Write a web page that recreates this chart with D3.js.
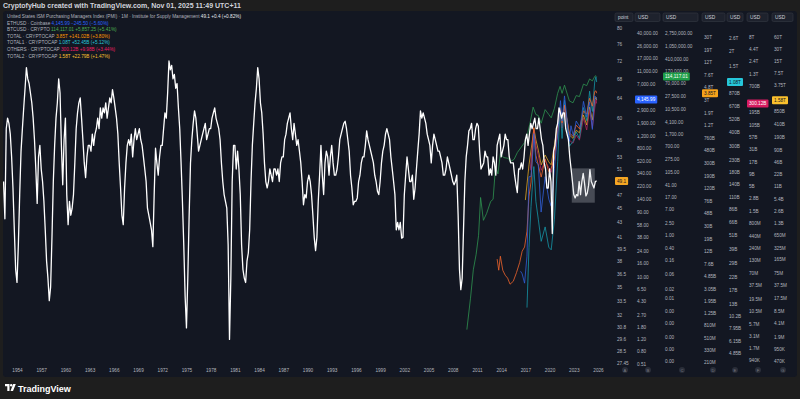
<!DOCTYPE html>
<html>
<head>
<meta charset="utf-8">
<script src="https://cdn.jsdelivr.net/npm/d3@7"></script>
<style>
body { margin: 0; background: #1e1e1e; }
svg { display: block; font-family: "Liberation Sans", Arial, sans-serif; }
</style>
</head>
<body>
<svg width="800" height="399"></svg>
<script>
// ISM PMI, one value every two months starting May 1952
var pmiStart = 1952 + 4 / 12;
var pmiValues = [
  49, 43.5, 58, 60,                      // 1952
  59, 57, 53, 48, 42, 37,                // 1953
  35.5, 40, 47, 54, 58, 62,
  66, 70.5, 68, 67, 65, 63,
  60, 56, 51, 45.7, 53, 55,
  51, 49, 46, 42, 38, 36,
  33.5, 35, 41, 49, 55, 60,
  63, 68, 65, 55, 48.5, 56,              // 1959
  60, 47, 42.7, 46, 44, 45,
  47, 52, 58, 61, 63, 64,
  60, 56, 52, 49.6, 53, 55,
  55, 54, 57, 55, 57, 58,
  60, 58, 62, 60, 62, 61,
  63, 60, 62, 64, 63, 65.7,
  64, 62, 60, 57, 52, 48,
  44, 42.7, 48, 52, 55, 56,
  55, 57, 53, 56, 58, 56,
  57, 58, 56, 55, 53, 51,                // 1969
  49, 45, 44, 43, 42, 39.8,
  47, 54.5, 52, 50, 53, 55,
  55, 58, 61, 60, 65, 72,
  70, 71, 68, 69, 66, 67,
  62, 58, 52, 46, 40, 34,
  30.7, 36, 44, 52, 56, 59,
  61.4, 60, 57, 54, 55, 56,
  57, 58, 59, 56, 57, 58,
  58, 60, 61, 62, 60, 59,
  58, 56, 52, 49, 47, 46,                // 1979
  45, 40, 29.6, 36, 49, 55,
  55, 51, 54, 51, 47, 40,
  37, 36, 35.5, 38, 39, 42,
  49, 55, 59, 63, 66, 70.5,
  68, 63, 61, 57, 52, 49,
  48, 49, 51, 50, 49, 51,
  51, 50, 51, 49, 52, 53,
  53, 56, 57, 59, 60, 61,
  58, 56, 59, 57, 55, 56,
  54, 52, 49, 45.5, 47, 46.5,            // 1989
  49, 50, 49, 47, 44, 41,
  39.3, 41, 46, 50, 55, 50,
  47, 52, 54, 53, 50, 53,
  55, 52, 50, 50, 51, 53,
  56, 57, 58, 59, 59.4, 58,
  56, 54, 50, 48, 45.5, 46,
  46, 46.5, 49, 50, 52, 53,
  53, 55, 57.6, 56, 55, 54,
  53, 52, 50, 49, 47.5, 47,
  49, 52, 54, 55, 57, 58,                // 1999
  57, 56, 53, 51, 49, 47,
  42, 43, 42, 43, 40.9, 41,
  47, 50, 53, 51, 49, 49,
  50, 46.3, 48, 51, 54, 57,
  61.4, 60, 61, 60, 59, 57,
  56, 55, 52, 55, 57, 56,
  55, 54, 54, 53, 52, 50,
  50, 51, 53, 52, 51, 50,
  49, 48.5, 49, 50, 44, 37,
  34.7, 36, 42, 49, 53, 55,              // 2009
  57.6, 58, 59, 56, 56, 58,
  59, 58.5, 54, 51, 51.5, 52,
  54, 53, 53, 50, 51, 50,
  53, 52, 50, 55, 56, 57,
  53, 54, 55, 57, 56, 56,
  53, 52, 52, 52, 50, 48.5,
  47.3, 51, 51, 52, 51, 53,
  56, 57, 55, 57, 59, 58,
  59, 60, 58, 58, 60, 58,
  56, 55, 52, 51, 48, 48,                // 2019
  51, 49, 41.5, 54, 55, 58,
  59, 62, 61, 60, 61, 61,
  58, 57, 56, 53, 51, 49,
  47, 46.5, 47, 46.8, 49, 47,
  49, 50.3, 48.7, 46.8, 47.2, 48.4,
  50.9, 49, 48.5, 48, 49, 49.1           // 2025
];

var ethDates = [2016.4, 2016.6, 2016.9, 2017.2, 2017.45, 2017.7, 2017.95, 2018.05, 2018.3, 2018.6, 2018.95, 2019.45, 2019.9, 2020.2, 2020.6, 2021.0, 2021.35, 2021.55, 2021.85, 2022.45, 2022.65, 2022.95, 2023.3, 2023.8, 2024.2, 2024.6, 2024.95, 2025.3, 2025.6, 2025.75, 2025.83];
var ethValues = [12, 11, 8, 20, 300, 300, 750, 1300, 500, 450, 90, 300, 140, 110, 400, 1300, 4000, 2000, 4700, 1000, 1700, 1200, 2000, 1600, 3900, 2300, 3800, 1500, 4700, 4500, 4145.99];

var btcDates = [2009.75, 2010.2, 2010.55, 2010.9, 2011.2, 2011.45, 2011.8, 2012.2, 2012.7, 2013.0, 2013.3, 2013.6, 2013.9, 2014.3, 2014.9, 2015.1, 2015.6, 2016.0, 2016.5, 2016.9, 2017.3, 2017.6, 2017.96, 2018.3, 2018.6, 2018.96, 2019.45, 2019.9, 2020.2, 2020.6, 2021.0, 2021.3, 2021.55, 2021.85, 2022.45, 2022.9, 2023.3, 2023.7, 2024.2, 2024.6, 2024.96, 2025.3, 2025.6, 2025.75, 2025.83];
var btcValues = [0.001, 0.01, 0.08, 0.25, 1, 16, 3, 5, 12, 14, 150, 90, 400, 300, 280, 220, 260, 430, 650, 900, 1800, 4000, 12000, 7000, 6500, 3700, 10000, 7000, 5500, 11000, 33000, 55000, 33000, 60000, 19000, 16500, 28000, 26000, 65000, 58000, 95000, 82000, 115000, 120000, 114117.01];

var totalDates = [2013.5, 2013.7, 2013.9, 2014.2, 2014.5, 2014.8, 2015.1, 2015.5, 2015.9, 2016.3, 2016.6, 2016.9, 2017.2, 2017.45, 2017.7, 2017.96, 2018.05, 2018.3, 2018.6, 2018.96, 2019.45, 2019.9, 2020.2, 2020.6, 2021.0, 2021.3, 2021.55, 2021.85, 2022.45, 2022.9, 2023.3, 2023.7, 2024.2, 2024.6, 2024.96, 2025.3, 2025.6, 2025.75, 2025.83];
var totalValues = [9e9, 6e9, 10e9, 6e9, 5e9, 4.5e9, 3.6e9, 4e9, 5.5e9, 8e9, 12e9, 14e9, 25e9, 90e9, 150e9, 800e9, 1.1e12, 400e9, 280e9, 180e9, 350e9, 220e9, 250e9, 350e9, 1e12, 2.2e12, 1.3e12, 2.5e12, 900e9, 800e9, 1.2e12, 1.05e12, 2e12, 1.8e12, 3.2e12, 2.4e12, 4.1e12, 4.2e12, 3.85e12];

var total1Dates = [2017.2, 2017.45, 2017.7, 2017.96, 2018.05, 2018.3, 2018.6, 2018.96, 2019.45, 2019.9, 2020.2, 2020.6, 2021.0, 2021.3, 2021.55, 2021.85, 2022.45, 2022.9, 2023.3, 2023.7, 2024.2, 2024.6, 2024.96, 2025.3, 2025.6, 2025.75, 2025.83];
var total1Values = [12e9, 40e9, 90e9, 170e9, 200e9, 100e9, 70e9, 45e9, 60e9, 40e9, 38e9, 70e9, 220e9, 650e9, 350e9, 750e9, 300e9, 330e9, 400e9, 350e9, 650e9, 500e9, 900e9, 600e9, 1.1e12, 1.2e12, 1.08e12];

var othersDates = [2017.6, 2017.96, 2018.05, 2018.3, 2018.6, 2018.96, 2019.45, 2019.9, 2020.2, 2020.6, 2021.0, 2021.3, 2021.55, 2021.85, 2022.45, 2022.9, 2023.3, 2023.7, 2024.2, 2024.6, 2024.96, 2025.3, 2025.6, 2025.75, 2025.83];
var othersValues = [11e9, 57e9, 81e9, 38e9, 23.5e9, 11e9, 18e9, 12.5e9, 10e9, 30e9, 63e9, 197e9, 89e9, 240e9, 49e9, 42e9, 63e9, 49e9, 146e9, 81e9, 218e9, 89e9, 240e9, 360e9, 300.12e9];

var total2Dates = [2017.0, 2017.45, 2017.96, 2018.05, 2018.3, 2018.6, 2018.96, 2019.45, 2019.9, 2020.2, 2020.6, 2021.0, 2021.3, 2021.55, 2021.85, 2022.45, 2022.9, 2023.3, 2023.7, 2024.2, 2024.6, 2024.96, 2025.3, 2025.6, 2025.75, 2025.83];
var total2Values = [5e9, 38e9, 212e9, 317e9, 163e9, 89e9, 38e9, 67e9, 45e9, 38e9, 120e9, 377e9, 1e12, 500e9, 1.19e12, 212e9, 175e9, 280e9, 240e9, 670e9, 377e9, 1.06e12, 500e9, 1.59e12, 1.87e12, 1.58e12];

var yearTicks = d3.range(1954, 2027, 3);
var pmiTicks = [80, 76, 72, 68, 64, 60, 56, 53, 51, 47, 45, 43, 41, 39.5, 38, 36.5, 35, 33.5, 32, 30.8, 29.6, 28.5, 27.45];
var ethTicks = [40000, 26000, 17000, 11000, 7000, 2900, 1900, 1200, 800, 520, 340, 220, 140, 90, 58, 38, 24, 16, 10, 6.5, 4.3, 2.7, 1.8, 1.2, 0.8, 0.51];
var btcTicks = [2750000, 1050000, 410000, 170000, 70000, 27500, 10500, 4100, 1700, 700, 275, 105, 41, 17, 7, 2.5, 1, 0.4, 0.16, 0.06, 0.02, 0.01, 0.004, 0.0016, 0.0006, 0.00025, 0.0001];
var totalTicks = [30e12, 19e12, 12e12, 7.6e12, 4.8e12, 3e12, 1.9e12, 1.2e12, 760e9, 480e9, 300e9, 190e9, 120e9, 76e9, 48e9, 30e9, 19e9, 12e9, 7.6e9, 4.85e9, 3.05e9, 1.95e9, 1.25e9, 810e6, 510e6, 330e6, 210e6];
var total1Ticks = [2.6e12, 2e12, 1.5e12, 870e9, 670e9, 520e9, 400e9, 300e9, 230e9, 180e9, 140e9, 110e9, 86e9, 66e9, 51e9, 39e9, 29e9, 22e9, 17e9, 13e9, 10.2e9, 7.95e9, 6.15e9, 4.85e9];
var othersTicks = [8e12, 4.4e12, 2.4e12, 1.3e12, 700e9, 195e9, 105e9, 57e9, 31e9, 17e9, 9e9, 5e9, 2.8e9, 1.5e9, 800e6, 440e6, 240e6, 130e6, 70e6, 37.5e6, 19.5e6, 10.5e6, 5.7e6, 3.1e6, 1.7e6, 940e3];
var total2Ticks = [60e12, 30e12, 15e12, 7.5e12, 3.75e12, 850e9, 410e9, 190e9, 90e9, 46e9, 22e9, 11e9, 5.4e9, 2.6e9, 1.3e9, 650e6, 325e6, 165e6, 75e6, 37.5e6, 17.5e6, 8.5e6, 4.1e6, 1.9e6, 950e3, 470e3];

var legendRows = [
  ["United States ISM Purchasing Managers Index (PMI) · 1M · Institute for Supply Management", "49.1  +0.4 (+0.82%)", "#e8e9ed"],
  ["ETHUSD · Coinbase", "4,145.99  −245.50 (−5.60%)", "#2962ff"],
  ["BTCUSD · CRYPTO", "114,117.01  +5,857.25 (+5.41%)", "#4caf50"],
  ["TOTAL · CRYPTOCAP", "3.85T  +141.02B (+3.80%)", "#ff9800"],
  ["TOTAL1 · CRYPTOCAP", "1.08T  +52.45B (+5.12%)", "#26c6da"],
  ["OTHERS · CRYPTOCAP", "300.12B  +9.98B (+3.44%)", "#e91e63"],
  ["TOTAL2 · CRYPTOCAP", "1.58T  +22.79B (+1.47%)", "#fbc02d"]
];

var svg = d3.select("svg");
var plot = {left: 3, top: 11, right: 612, bottom: 366};

var x = d3.scaleLinear().domain([1954, 2026]).range([17, 598]);
var yPmi = d3.scaleLog().domain([27.45, 80]).range([363, 28]);
var yEth = d3.scaleLog().domain([0.51, 40000]).range([364, 33]);
var yBtc = d3.scaleLog().domain([1e-4, 2.75e6]).range([361, 33]);
var yTotal = d3.scaleLog().domain([210e6, 30e12]).range([362, 37]);
var yTotal1 = d3.scaleLog().domain([4.85e9, 2.6e12]).range([353, 38]);
var yOthers = d3.scaleLog().domain([940e3, 8e12]).range([360, 37]);
var yTotal2 = d3.scaleLog().domain([470e3, 60e12]).range([361, 37]);

function abbr(v) {
  var units = [[1e12, "T"], [1e9, "B"], [1e6, "M"], [1e3, "K"]];
  for (var i = 0; i < units.length; i++) {
    if (v >= units[i][0] * 0.999) return +(v / units[i][0]).toFixed(2) + units[i][1];
  }
  return String(v);
}
var money = d3.format(",.2f");
var tickFont = 4.7;

// panel
svg.append("rect").attr("x", 3).attr("y", 11).attr("width", 794).attr("height", 366)
  .attr("rx", 3).attr("fill", "#131722");

svg.append("defs").append("clipPath").attr("id", "plotclip")
  .append("rect").attr("x", plot.left).attr("y", plot.top)
  .attr("width", plot.right - plot.left).attr("height", plot.bottom - plot.top);

var g = svg.append("g").attr("clip-path", "url(#plotclip)");

var series = [
  {dates: total2Dates, values: total2Values, y: yTotal2, color: "#e0a526"},
  {dates: othersDates, values: othersValues, y: yOthers, color: "#b0245e"},
  {dates: total1Dates, values: total1Values, y: yTotal1, color: "#1596a8"},
  {dates: totalDates, values: totalValues, y: yTotal, color: "#f0642c"},
  {dates: ethDates, values: ethValues, y: yEth, color: "#2f5fd8"},
  {dates: btcDates, values: btcValues, y: yBtc, color: "#2e9450"}
];

series.forEach(function(s) {
  var line = d3.line()
    .x(function(d, i) { return x(s.dates[i]); })
    .y(function(d) { return s.y(d); });
  g.append("path")
    .datum(s.values)
    .attr("fill", "none")
    .attr("stroke", s.color)
    .attr("stroke-width", 1)
    .attr("stroke-opacity", 0.8)
    .attr("d", line);
});

// PMI
var pmiLine = d3.line()
  .x(function(d, i) { return x(pmiStart + i / 6); })
  .y(function(d) { return yPmi(d); });
g.append("path")
  .datum(pmiValues)
  .attr("fill", "none")
  .attr("stroke", "#ffffff")
  .attr("stroke-width", 1.3)
  .attr("stroke-linejoin", "round")
  .attr("d", pmiLine);

// highlight box
g.append("rect")
  .attr("x", x(2022.75)).attr("y", yPmi(51.1))
  .attr("width", x(2025.6) - x(2022.75)).attr("height", yPmi(45.8) - yPmi(51.1))
  .attr("fill", "#d1d4dc").attr("fill-opacity", 0.28);

// time axis
var xAxis = svg.append("g").attr("transform", "translate(0,366)")
  .call(d3.axisBottom(x).tickValues(yearTicks).tickFormat(d3.format("d")).tickSize(0).tickPadding(3));
xAxis.select(".domain").remove();
xAxis.selectAll("text").attr("fill", "#b2b5be").attr("font-size", tickFont)
  .attr("font-family", "Liberation Sans, Arial, sans-serif");

// price scales
var cols = [
  {x: 617, scale: yPmi, ticks: pmiTicks, fmt: function(d) { return String(d); }, head: "point", hx: 615, hw: 18, letter: "A", lx: 625},
  {x: 637, scale: yEth, ticks: ethTicks, fmt: money, head: "USD", hx: 635, hw: 25, letter: "B", lx: 648},
  {x: 665, scale: yBtc, ticks: btcTicks, fmt: money, head: "USD", hx: 663, hw: 35, letter: "C", lx: 682},
  {x: 704, scale: yTotal, ticks: totalTicks, fmt: abbr, head: "USD", hx: 702, hw: 23, letter: "D", lx: 713},
  {x: 729, scale: yTotal1, ticks: total1Ticks, fmt: abbr, head: "USD", hx: 727, hw: 16, letter: "E", lx: 735},
  {x: 749, scale: yOthers, ticks: othersTicks, fmt: abbr, head: "USD", hx: 747, hw: 21, letter: "F", lx: 758},
  {x: 774, scale: yTotal2, ticks: total2Ticks, fmt: abbr, head: "USD", hx: 772, hw: 21, letter: "G", lx: 783}
];

cols.forEach(function(c) {
  var ax = svg.append("g").attr("transform", "translate(" + c.x + ",0)")
    .call(d3.axisRight(c.scale).tickValues(c.ticks).tickFormat(c.fmt).tickSize(0).tickPadding(0));
  ax.select(".domain").remove();
  ax.selectAll("text").attr("fill", "#b2b5be").attr("font-size", tickFont)
    .attr("font-family", "Liberation Sans, Arial, sans-serif");

  svg.append("rect").attr("x", c.hx).attr("y", 13).attr("width", c.hw).attr("height", 8.5)
    .attr("rx", 1.5).attr("fill", "#1e222d").attr("stroke", "#363a45").attr("stroke-width", 0.6);
  svg.append("text").attr("x", c.hx + 3).attr("y", 19.2).text(c.head)
    .attr("fill", "#d1d4dc").attr("font-size", 4.8);

  svg.append("circle").attr("cx", c.lx).attr("cy", 370).attr("r", 3).attr("fill", "#2a2e39");
  svg.append("text").attr("x", c.lx).attr("y", 371.6).attr("text-anchor", "middle").text(c.letter)
    .attr("fill", "#787b86").attr("font-size", 4.2);
});

// last-value badges
var badges = [
  {col: 0, v: pmiValues[pmiValues.length - 1], fill: "#f5a623", text: "#131722"},
  {col: 1, v: ethValues[ethValues.length - 1], fill: "#2962ff", text: "#ffffff"},
  {col: 2, v: btcValues[btcValues.length - 1], fill: "#1e9e48", text: "#ffffff"},
  {col: 3, v: totalValues[totalValues.length - 1], fill: "#f7a21b", text: "#131722"},
  {col: 4, v: total1Values[total1Values.length - 1], fill: "#26c6da", text: "#131722"},
  {col: 5, v: othersValues[othersValues.length - 1], fill: "#d81b60", text: "#ffffff"},
  {col: 6, v: total2Values[total2Values.length - 1], fill: "#fbc02d", text: "#131722"}
];
badges.forEach(function(b) {
  var c = cols[b.col];
  var yy = c.scale(b.v);
  var bg = svg.append("g");
  var r = bg.append("rect").attr("fill", b.fill).attr("rx", 1);
  var t = bg.append("text").attr("x", c.x).attr("y", yy + 1.7).text(c.fmt(b.v))
    .attr("fill", b.text).attr("font-size", tickFont);
  var w = t.node().getComputedTextLength();
  r.attr("x", c.x - 2).attr("y", yy - 4).attr("width", w + 4).attr("height", 8);
});

// header text
svg.append("text").attr("x", 3).attr("y", 7.5)
  .text("CryptofyHub created with TradingView.com, Nov 01, 2025 11:49 UTC+11")
  .attr("fill", "#d1d4dc").attr("font-size", 7).attr("font-weight", "bold");

// legend
var legend = svg.append("g");
legendRows.forEach(function(row, i) {
  var t = legend.append("text").attr("x", 7).attr("y", 18 + i * 6.6).attr("font-size", 4.7);
  t.append("tspan").text(row[0] + "  ").attr("fill", "#b2b5be");
  t.append("tspan").text(row[1]).attr("fill", row[2]);
});

// TradingView logo
var logo = svg.append("g").attr("transform", "translate(5,384)");
logo.append("path").attr("d", "M0,0 H4.5 V7 H2.3 V2.2 H0 Z").attr("fill", "#ffffff");
logo.append("circle").attr("cx", 6.2).attr("cy", 1.2).attr("r", 1.2).attr("fill", "#ffffff");
logo.append("path").attr("d", "M8.2,0 H10.8 L8,7 H5.5 Z").attr("fill", "#ffffff");
svg.append("text").attr("x", 18).attr("y", 391.5).text("TradingView")
  .attr("fill", "#ffffff").attr("font-size", 9).attr("font-weight", "bold");
</script>
</body>
</html>
